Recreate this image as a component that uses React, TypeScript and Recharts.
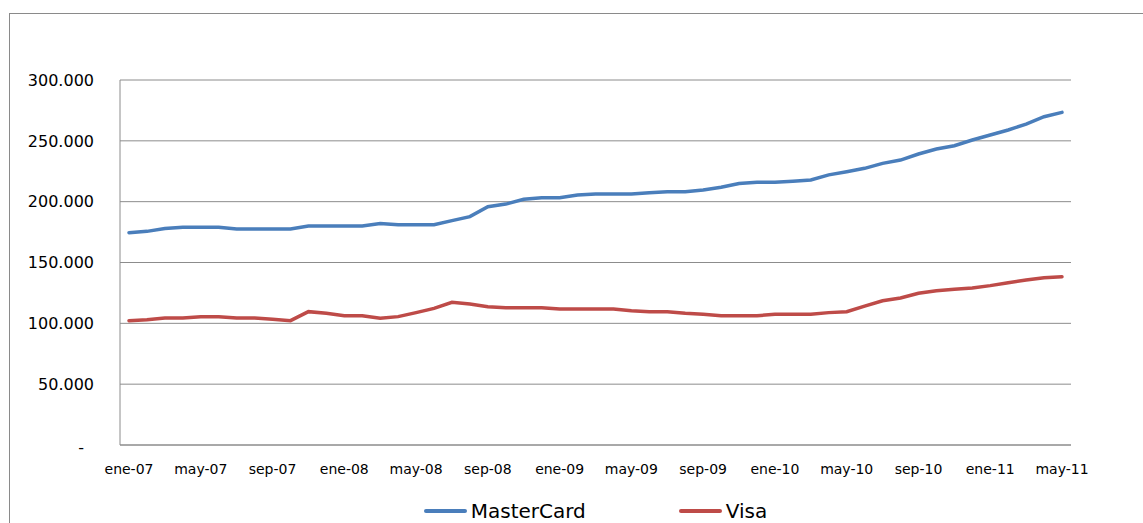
import { LineChart, Line, XAxis, YAxis, CartesianGrid, Legend } from 'recharts'

const monthNames = ['ene', 'feb', 'mar', 'abr', 'may', 'jun', 'jul', 'ago', 'sep', 'oct', 'nov', 'dic']
const years = ['07', '08', '09', '10', '11']
const monthCount = 53 // ene-07 .. may-11

const yTicks = [0, 50000, 100000, 150000, 200000, 250000, 300000]

const masterCard = [
    174500, 175600, 178000, 179000, 179000, 179000, 177500, 177500, 177500, 177500,
    180000, 180000, 180000, 180000, 182000, 181000, 181000, 181000, 184400, 187700,
    195900, 198000, 202000, 203300, 203300, 205500, 206300, 206300, 206300, 207400,
    208200, 208200, 209600, 211800, 215000, 216000, 216000, 216800, 217800, 222000,
    224600, 227400, 231500, 234200, 239200, 243300, 246000, 250700, 254800, 258900,
    263800, 269800, 273400,
]

const visa = [
    102200, 103000, 104400, 104400, 105500, 105500, 104400, 104400, 103300, 102200,
    109600, 108200, 106300, 106300, 104100, 105500, 108800, 112300, 117300, 115900,
    113700, 112900, 112900, 112900, 111800, 111800, 111800, 111800, 110400, 109600,
    109600, 108200, 107400, 106300, 106300, 106300, 107400, 107400, 107400, 108800,
    109600, 114200, 118600, 120800, 124700, 126800, 128000, 129000, 131000, 133400,
    135600, 137500, 138300,
]

const categories: string[] = []
years.forEach(y => monthNames.forEach(m => categories.push(`${m}-${y}`)))

const data = categories.slice(0, monthCount).map((month, i) => ({
    month,
    mastercard: masterCard[i],
    visa: visa[i],
}))

const formatNumber = (value: number) => {
    if (value === 0) return '-'
    return String(value).replace(/\B(?=(\d{3})+(?!\d))/g, '.')
}

const YTick = ({ x, y, payload }: any) => {
    const isZero = payload.value === 0
    return (
        <text
            x={isZero ? x - 10 : x}
            y={y}
            dy={isZero ? '0.5em' : '0.355em'}
            textAnchor="end"
            fill="#000"
            fontSize={16}
            fontFamily="DejaVu Sans"
        >
            {formatNumber(payload.value)}
        </text>
    )
}

const LegendContent = ({ payload }: any) => (
    <div style={{ display: 'flex', justifyContent: 'center', alignItems: 'center', fontFamily: 'DejaVu Sans', fontSize: 20, color: '#000' }}>
        {payload.map((entry: any, index: number) => (
            <div key={index} style={{ display: 'flex', alignItems: 'center', marginRight: index === 0 ? 93 : 0 }}>
                <div style={{ width: 43, height: 4, borderRadius: 2, background: entry.color, marginRight: 4 }} />
                <span>{entry.value}</span>
            </div>
        ))}
    </div>
)

export default function App() {
    return (
        <div style={{ position: 'fixed', left: 0, top: 0, width: 1143, height: 523, overflow: 'hidden', background: '#fff' }}>
            <div style={{ position: 'absolute', left: 9, top: 13, width: 1300, height: 700, border: '1px solid #8a8a8a' }} />
            <div style={{ position: 'absolute', left: 0, top: 0 }}>
                <LineChart width={1143} height={523} data={data} margin={{ top: 80, right: 72, left: 0, bottom: 0 }}>
                    <CartesianGrid vertical={false} stroke="#8c8c8c" strokeWidth={1} />
                    <XAxis
                        dataKey="month"
                        interval={3}
                        height={30}
                        tickLine={false}
                        tickSize={0}
                        tickMargin={19}
                        padding={{ left: 9, right: 9 }}
                        axisLine={{ stroke: '#8c8c8c' }}
                        tick={{ fill: '#000', fontSize: 14, fontFamily: 'DejaVu Sans' }}
                    />
                    <YAxis
                        width={120}
                        domain={[0, 300000]}
                        ticks={yTicks}
                        tickLine={false}
                        tickSize={0}
                        tickMargin={26}
                        axisLine={{ stroke: '#8c8c8c' }}
                        tick={<YTick />}
                    />
                    <Legend
                        verticalAlign="bottom"
                        height={48}
                        content={<LegendContent />}
                        wrapperStyle={{ left: 120, width: 951, top: 499 }}
                    />
                    <Line
                        type="linear"
                        dataKey="mastercard"
                        name="MasterCard"
                        stroke="#4a7ebb"
                        strokeWidth={3.5}
                        dot={false}
                        strokeLinecap="round"
                        isAnimationActive={false}
                    />
                    <Line
                        type="linear"
                        dataKey="visa"
                        name="Visa"
                        stroke="#be4b48"
                        strokeWidth={3.5}
                        dot={false}
                        strokeLinecap="round"
                        isAnimationActive={false}
                    />
                </LineChart>
            </div>
        </div>
    )
}
